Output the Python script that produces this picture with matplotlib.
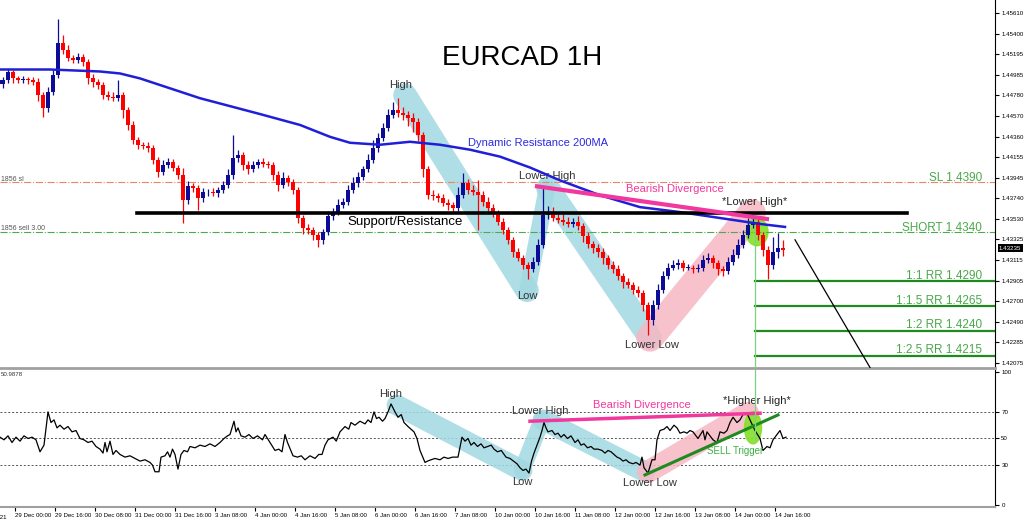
import numpy as np
import matplotlib.pyplot as plt
from matplotlib.patches import Ellipse

plt.rcParams['font.family'] = ['Liberation Sans', 'DejaVu Sans']

# 2-hour candles, x axis in hours from the left edge of the chart
close = [1.4493, 1.4501, 1.4495, 1.4493, 1.4494, 1.4493, 1.4491, 1.4478, 1.4465, 1.4481,
         1.4498, 1.4531, 1.4524, 1.4516, 1.4514, 1.4517, 1.4512, 1.4495, 1.4491, 1.4488,
         1.4478, 1.4476, 1.4475, 1.4478, 1.4463, 1.4448, 1.4433, 1.4428, 1.4427, 1.4425,
         1.4413, 1.4400, 1.4408, 1.4411, 1.4405, 1.4397, 1.4372, 1.4386, 1.4384, 1.4374,
         1.4380, 1.4380, 1.4379, 1.4382, 1.4387, 1.4397, 1.4415, 1.4418, 1.4408, 1.4403,
         1.4408, 1.4411, 1.4409, 1.4408, 1.4397, 1.4387, 1.4394, 1.4390, 1.4382, 1.4354,
         1.4344, 1.4342, 1.4337, 1.4332, 1.4340, 1.4356, 1.4360, 1.4367, 1.4370, 1.4382,
         1.4389, 1.4395, 1.4403, 1.4413, 1.4425, 1.4435, 1.4445, 1.4458, 1.4463, 1.4460,
         1.4458, 1.4455, 1.4451, 1.4438, 1.4403, 1.4377, 1.4376, 1.4374, 1.4369, 1.4367,
         1.4364, 1.4377, 1.4389, 1.4382, 1.4380, 1.4377, 1.4370, 1.4364, 1.4359, 1.4350,
         1.4342, 1.4332, 1.4320, 1.4314, 1.4307, 1.4302, 1.4310, 1.4327, 1.4357, 1.4360,
         1.4354, 1.4352, 1.4350, 1.4348, 1.4350, 1.4346, 1.4336, 1.4328, 1.4324, 1.4320,
         1.4314, 1.4307, 1.4302, 1.4295, 1.4289, 1.4286, 1.4281, 1.4278, 1.4266, 1.4251,
         1.4266, 1.4281, 1.4295, 1.4304, 1.4307, 1.4309, 1.4304, 1.4304, 1.4302, 1.4304,
         1.4312, 1.4314, 1.4309, 1.4302, 1.4300, 1.4310, 1.4317, 1.4327, 1.4337, 1.4347,
         1.4350, 1.4337, 1.4322, 1.4307, 1.4320, 1.4324, 1.4322]
first_open = 1.4489
# wick lengths in pips above / below the body
wick_up = [3, 4, 3, 2, 3, 2, 3, 4, 3, 5, 6, 24, 8, 5, 3, 4, 3, 3, 4, 3,
           3, 4, 5, 15, 3, 3, 4, 3, 3, 4, 3, 3, 5, 4, 3, 3, 8, 5, 3, 3,
           4, 3, 4, 3, 4, 6, 23, 5, 3, 4, 4, 3, 4, 3, 3, 4, 6, 3, 3, 3,
           3, 4, 3, 3, 3, 5, 4, 6, 4, 5, 6, 5, 4, 6, 8, 5, 5, 6, 8, 12,
           6, 4, 5, 4, 3, 4, 5, 3, 4, 4, 3, 8, 10, 4, 5, 12, 4, 5, 4, 3,
           4, 3, 3, 4, 3, 3, 5, 6, 27, 6, 5, 4, 6, 5, 4, 6, 3, 4, 3, 4,
           4, 3, 4, 5, 3, 4, 3, 4, 3, 3, 5, 6, 5, 5, 5, 4, 3, 4, 3, 4,
           5, 5, 3, 3, 4, 5, 6, 6, 5, 7, 7, 4, 3, 4, 15, 15, 8]
wick_dn = [4, 3, 5, 3, 3, 4, 3, 6, 9, 4, 3, 3, 4, 3, 3, 3, 4, 6, 5, 4,
           4, 3, 3, 3, 8, 5, 4, 4, 3, 4, 4, 5, 3, 3, 4, 4, 23, 4, 4, 12,
           4, 4, 3, 4, 3, 3, 4, 4, 6, 5, 3, 3, 3, 3, 5, 6, 3, 4, 4, 5,
           6, 4, 5, 7, 4, 3, 4, 3, 3, 3, 3, 4, 3, 3, 3, 4, 3, 3, 3, 4,
           5, 8, 10, 6, 8, 4, 4, 4, 3, 5, 4, 3, 3, 4, 3, 35, 4, 3, 4, 3,
           4, 4, 5, 3, 5, 10, 3, 3, 3, 4, 3, 3, 3, 3, 3, 4, 6, 4, 5, 5,
           6, 5, 4, 4, 6, 3, 4, 4, 6, 15, 5, 4, 3, 3, 3, 4, 4, 3, 4, 3,
           4, 3, 5, 6, 5, 3, 3, 3, 3, 3, 3, 5, 6, 15, 5, 6, 6]

ma_hours = [0, 20, 40, 48, 56, 68, 80, 92, 104, 120, 132, 140, 152, 164, 176, 188,
            200, 212, 224, 240, 256, 272, 288, 304, 314]
ma200 = [1.4504, 1.4504, 1.4502, 1.4500, 1.4495, 1.4485, 1.4475, 1.4467, 1.4459, 1.4448,
         1.4436, 1.4430, 1.4428, 1.4431, 1.4428, 1.4423, 1.4416, 1.4405, 1.4392, 1.4377,
         1.4365, 1.4360, 1.4354, 1.4348, 1.4345]

rsi_hours = [0, 1.6, 3.2, 4.8, 6.4, 8, 9.6, 11.2, 12.8, 14.4, 16,
             17.6, 19.2, 20.4, 21.6, 22.8, 24,
             25.6, 27.2, 28.8, 30.4, 32, 33.6, 35.2, 36.8, 38.4, 40,
             41.2, 42, 42.8, 44, 45.2, 46.4, 48,
             50, 52, 54, 56, 58, 60, 61, 62, 63.6, 64.4,
             66, 67, 68, 69, 70, 71.2, 72.4, 73.6, 75, 76, 78, 80,
             82, 84, 86, 88, 89.6, 91, 92, 93.6, 94.4, 95.2, 96.4,
             98, 99.6, 101.2, 103, 105, 106, 108, 110, 111.5, 112.8, 114, 115, 117.2, 119, 120.5, 122,
             124, 126, 127.5, 128.8, 130, 131.2, 133.2, 134.5, 136, 138, 139.5, 140.4, 142, 144,
             146, 147.2, 148.4, 149.6, 150.6, 151.6, 153, 154, 155.2, 156.4,
             158, 159.2, 160.5, 161.6, 163.2, 164.4, 165.6, 166.8, 168, 170, 171, 172.4, 174,
             176, 177.6, 179.2, 181, 183.2,
             184.8, 186, 187.2, 188.4, 189.6, 191, 192.4, 193.6, 195, 196.5, 197.6, 199, 200.5,
             202.4, 204, 205.4, 206.8, 208, 209.2, 210.4, 211.6, 212.6, 213.6, 214.8, 216, 216.8, 217.6,
             218.4, 219.2, 220.8, 222, 223.2, 224.4, 225.6, 227, 228.4, 230, 231.2, 232.4, 233.6,
             235, 236.4, 237.6, 239.2,
             240.8, 242, 243.2, 244.4, 245.6, 246.8, 248, 249.2, 250.4, 251.6, 253.2, 254.4, 256,
             256.8, 257.6, 258.4, 259.2, 260.8, 262, 262.8, 264,
             265.6, 266.8, 268, 269.6, 270.8, 272, 273.6, 274.8, 276, 277.2, 279.2, 281.2, 282,
             282.8, 285.2, 286.8, 288, 289.6, 290.8, 292, 293.2, 294.8, 296, 297.2, 298.8, 300,
             302, 304, 305.2, 306.8, 308, 309.2, 310.8, 312, 313.2, 314.4]
rsi = [51, 49, 52, 47, 51, 48, 52, 50, 51, 49, 40,
       45, 70, 62, 64, 58, 60,
       57, 59, 55, 56, 50, 49, 47, 48, 44, 42,
       39, 47, 40, 48, 38, 41, 38,
       36, 37, 35, 33, 34, 32, 30, 25, 25, 36,
       37, 40, 36, 42, 38, 27, 38, 41, 40, 44, 43, 45,
       44, 46, 44, 47, 50, 52, 53, 63, 55, 58, 52,
       51, 53, 50, 52, 49, 53, 47, 41, 42, 40, 53, 47, 37, 36, 37, 34,
       37, 35, 38, 38, 45, 49, 51, 48, 55, 59, 57, 62, 60, 63,
       61, 64, 62, 70, 65, 66, 63, 65, 70, 76,
       70, 66, 68, 62, 59, 57, 55, 50, 41, 32, 33, 34, 35,
       34, 36, 35, 36, 36,
       51, 48, 50, 45, 47, 44, 46, 43, 44, 45, 42, 40, 41,
       36, 35, 33, 31, 28, 26, 27, 24, 33, 39, 45, 51, 56, 62,
       58, 55, 56, 53, 54, 51, 53, 50, 52, 47, 49, 45, 46,
       43, 44, 42, 42,
       41, 39, 41, 40, 38, 36, 35, 33, 34, 32, 31, 32, 30,
       36, 28, 26, 24, 34, 34, 49, 56,
       57, 59, 56, 60, 58, 54, 55, 54, 56, 55, 50, 56, 49,
       55, 49, 47, 55, 54, 56, 62, 66, 62, 64, 68, 69, 64,
       56, 50, 41, 44, 43, 49, 53, 56, 50, 51]

tick_hours = [6 + 16 * k for k in range(20)]
tick_labels = ['29 Dec 00:00', '29 Dec 16:00', '30 Dec 08:00', '31 Dec 00:00', '31 Dec 16:00',
               '3 Jan 08:00', '4 Jan 00:00', '4 Jan 16:00', '5 Jan 08:00', '6 Jan 00:00',
               '6 Jan 16:00', '7 Jan 08:00', '10 Jan 00:00', '10 Jan 16:00', '11 Jan 08:00',
               '12 Jan 00:00', '12 Jan 16:00', '13 Jan 08:00', '14 Jan 00:00', '14 Jan 16:00']
price_ticks = [1.45610, 1.45400, 1.45195, 1.44985, 1.44780, 1.44570, 1.44360, 1.44155, 1.43945,
               1.43740, 1.43530, 1.43325, 1.43115, 1.42905, 1.42700, 1.42490, 1.42285, 1.42075]

sl, short, sr_level = 1.4390, 1.4340, 1.4359
rr_levels = [1.4290, 1.4265, 1.4240, 1.4215]
rr_names = ['1:1 RR 1.4290', '1:1.5 RR 1.4265', '1:2 RR 1.4240', '1:2.5 RR 1.4215']
last_price = 1.43235

UP, DOWN = '#0c0c96', '#ff0000'
LBLUE, PINK, LIME = '#a3d9e2', '#f6b8c4', '#84e02a'
MAGENTA, GREEN_TXT, GREEN_LN = '#f2379f', '#4aa84a', '#1f8a1f'
TICK_FS = 4.4

fig = plt.figure(figsize=(10.24, 5.2), dpi=100)
ax = fig.add_axes([0, 1 - 368 / 520, 995 / 1024, 368 / 520])
ax2 = fig.add_axes([0, 1 - 507 / 520, 995 / 1024, 137 / 520])

# ---- price panel
c = np.array(close)
o = np.r_[first_open, c[:-1]]
hrs = 1 + 2 * np.arange(len(c))
hi = np.maximum(o, c) + np.array(wick_up) * 0.0001
lo = np.minimum(o, c) - np.array(wick_dn) * 0.0001
cols = np.where(c >= o, UP, DOWN)
ax.vlines(hrs, lo, hi, colors=cols, lw=0.9, zorder=3)
ax.bar(hrs, np.maximum(np.abs(c - o), 0.00006), bottom=np.minimum(o, c), width=1.6,
       color=cols, zorder=3)
ax.plot(ma_hours, ma200, color='#1f1fd8', lw=1.8, zorder=4)

def band(a, xs, ys, color, lw):
    a.plot(xs, ys, color=color, lw=lw, solid_capstyle='round', alpha=0.85, zorder=1)

band(ax, [162, 210.8], [1.4478, 1.4281], LBLUE, 17)
band(ax, [210.8, 218.8], [1.4279, 1.4384], LBLUE, 12)
band(ax, [219.2, 260], [1.4384, 1.4233], LBLUE, 17)
band(ax, [260, 300.8], [1.4233, 1.4359], PINK, 20)
ax.add_patch(Ellipse((302.8, 1.4340), 8.8, 0.0028, color=LIME, alpha=0.9, zorder=2))

ax.axhline(sl, color='#e8866a', lw=0.8, ls='-.', zorder=2)
ax.axhline(short, color='#4caa4c', lw=0.8, ls='-.', zorder=2)
ax.plot([54.8, 362.8], [sr_level, sr_level], color='black', lw=2.6, zorder=5)
ax.plot([214.8, 306.8], [1.4386, 1.4353], color=MAGENTA, lw=3, zorder=5)
for lvl in rr_levels:
    ax.plot([302, 398], [lvl, lvl], color=GREEN_LN, lw=1.6, zorder=5)
ax.plot([302, 302], [1.4345, 1.4200], color='#7fd07f', lw=0.9, zorder=5)
ax.plot([318, 348], [1.4332, 1.4203], color='black', lw=0.9, zorder=5)

ax.text(208.8, 1.45156, 'EURCAD 1H', fontsize=20, ha='center', va='center')
ax.text(160.4, 1.44884, 'High', fontsize=8, ha='center', va='center', color='#333333')
ax.text(187.2, 1.44298, 'Dynamic Resistance 200MA', fontsize=8, va='center', color='#2a2ae0')
ax.text(218.8, 1.43964, 'Lower High', fontsize=8, ha='center', va='center', color='#333333')
ax.text(270, 1.43833, 'Bearish Divergence', fontsize=8, ha='center', va='center', color=MAGENTA)
ax.text(302, 1.43702, '*Lower High*', fontsize=8, ha='center', va='center', color='#222222')
ax.text(162, 1.43500, 'Support/Resistance', fontsize=9.5, ha='center', va='center', zorder=6)
ax.text(210.8, 1.42752, 'Low', fontsize=8, ha='center', va='center', color='#333333')
ax.text(260.8, 1.42258, 'Lower Low', fontsize=8, ha='center', va='center', color='#333333')
ax.text(392.8, 1.43944, 'SL 1.4390', fontsize=8.5, ha='right', va='center', color=GREEN_TXT)
ax.text(392.8, 1.43439, 'SHORT 1.4340', fontsize=8.5, ha='right', va='center', color=GREEN_TXT)
for lvl, name in zip(rr_levels, rr_names):
    ax.text(392.8, lvl + 0.00055, name, fontsize=8.5, ha='right', va='center', color=GREEN_TXT)
ax.text(0.3, sl + 0.0003, '1856 sl', fontsize=5, color='#555555', va='center')
ax.text(0.3, short + 0.0003, '1856 sell 3.00', fontsize=5, color='#555555', va='center')

ax.set_xlim(0, 398)
ax.set_ylim(1.42025, 1.45742)
ax.yaxis.tick_right()
ax.set_yticks(price_ticks)
ax.set_yticklabels([f'{p:.5f}' for p in price_ticks])
ax.tick_params(axis='y', direction='out', length=3, labelsize=TICK_FS, pad=1.5)
ax.tick_params(axis='x', bottom=False, labelbottom=False)
ax.text(1.004, last_price, f'{last_price:.5f}', transform=ax.get_yaxis_transform(),
        fontsize=TICK_FS, color='white', va='center', ha='left', clip_on=False,
        bbox=dict(boxstyle='square,pad=0.2', fc='black', ec='none'))
for s in ['top', 'left']:
    ax.spines[s].set_visible(False)
ax.spines['bottom'].set_color('#a0a0a0')
ax.spines['bottom'].set_linewidth(2)
ax.spines['right'].set_linewidth(0.8)

# ---- RSI panel
for lvl in [70, 50, 30]:
    ax2.axhline(lvl, color='#555555', lw=0.7, ls=(0, (2, 2)), zorder=1)
band(ax2, [158.8, 208.8], [75, 26], LBLUE, 15)
band(ax2, [208.8, 216.8], [26, 64], LBLUE, 12)
band(ax2, [217.2, 258], [64, 25], LBLUE, 15)
band(ax2, [259.2, 299.2], [25, 69], PINK, 16)
ax2.add_patch(Ellipse((301.2, 58), 6.8, 24, color=LIME, alpha=0.9, zorder=2))
ax2.plot(rsi_hours, rsi, color='black', lw=0.9, zorder=3)
ax2.plot([212, 304], [63, 69], color=MAGENTA, lw=2.5, zorder=4)
ax2.plot([258, 311.2], [22.6, 67.7], color=GREEN_LN, lw=2.2, zorder=4)
ax2.plot([302, 302], [49, 101.5], color='#7fd07f', lw=0.9, zorder=5)

ax2.text(156.4, 83.5, 'High', fontsize=8, ha='center', va='center', color='#333333')
ax2.text(216, 70.7, 'Lower High', fontsize=8, ha='center', va='center', color='#333333')
ax2.text(256.8, 75.2, 'Bearish Divergence', fontsize=8, ha='center', va='center', color=MAGENTA)
ax2.text(302.8, 78, '*Higher High*', fontsize=8, ha='center', va='center', color='#222222')
ax2.text(208.8, 17.3, 'Low', fontsize=8, ha='center', va='center', color='#333333')
ax2.text(260, 16.5, 'Lower Low', fontsize=8, ha='center', va='center', color='#333333')
ax2.text(294, 40.6, 'SELL Trigger', fontsize=7, ha='center', va='center', color='#3cb043')
ax2.text(0.5, 98, '50.9878', fontsize=TICK_FS, va='center', color='#333333')

ax2.set_xlim(0, 398)
ax2.set_ylim(-1.5, 101.5)
ax2.yaxis.tick_right()
ax2.set_yticks([0, 30, 50, 70, 100])
ax2.tick_params(axis='y', direction='out', length=3, labelsize=TICK_FS, pad=1.5)
ax2.set_xticks(tick_hours)
ax2.set_xticklabels(tick_labels, ha='left')
ax2.tick_params(axis='x', direction='out', length=3, labelsize=TICK_FS, pad=1)
for s in ['top', 'left']:
    ax2.spines[s].set_visible(False)
ax2.spines['bottom'].set_color('#a0a0a0')
ax2.spines['bottom'].set_linewidth(1.5)
ax2.spines['right'].set_linewidth(0.8)
fig.text(-0.027, 0.0, '28 Dec 2021', fontsize=TICK_FS, va='bottom')

fig.savefig('out.png', dpi=100)
